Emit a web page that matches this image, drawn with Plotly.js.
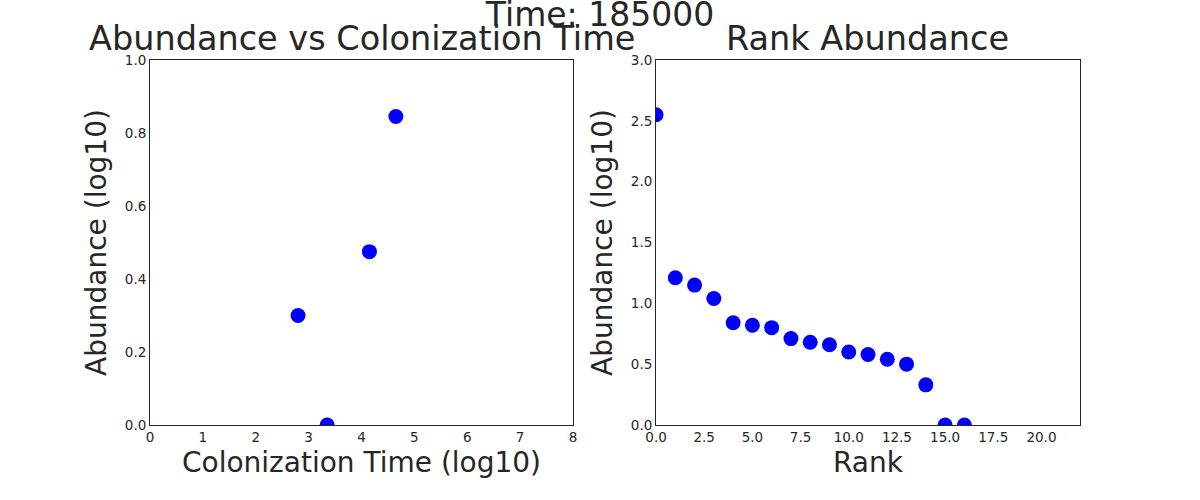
<!DOCTYPE html>
<html>
<head>
<meta charset="utf-8">
<script src="https://cdn.plot.ly/plotly-3.0.1.min.js"></script>
<style>body{margin:0;background:#fff}</style>
</head>
<body>
<div id="plot" style="width:1200px;height:500px"></div>
<script>
// left panel: colonization time vs abundance
const colTime = [2.8, 3.35, 4.15, 4.65];
const colAbund = [0.30, 0.0, 0.475, 0.845];

// right panel: rank abundance
const ranks = [0, 1, 2, 3, 4, 5, 6, 7, 8, 9, 10, 11, 12, 13, 14, 15, 16];
const rankAbund = [2.55, 1.21, 1.15, 1.04, 0.84, 0.82, 0.80, 0.71, 0.68, 0.66, 0.60, 0.58, 0.54, 0.50, 0.33, 0.0, 0.0];

const txt = '#262626';
const fnt = 'DejaVu Sans, sans-serif';
const mk = {color: 'blue', size: 15};

function ax(extra) {
  return Object.assign({
    showline: true, mirror: true, linecolor: '#262626', linewidth: 1,
    showgrid: false, zeroline: false, ticks: '',
    tickfont: {size: 13.5, color: txt, family: fnt},
  }, extra);
}

const traces = [
  {x: colTime, y: colAbund, mode: 'markers', type: 'scatter', marker: mk, xaxis: 'x', yaxis: 'y'},
  {x: ranks, y: rankAbund, mode: 'markers', type: 'scatter', marker: mk, xaxis: 'x2', yaxis: 'y2'},
];

const layout = {
  width: 1200, height: 500,
  showlegend: false,
  paper_bgcolor: '#fff', plot_bgcolor: '#fff',
  margin: {l: 0, r: 0, t: 0, b: 0},
  font: {family: fnt, color: txt},
  title: {text: 'Time: 185000', font: {size: 33, color: txt}, x: 0.5, xanchor: 'center', y: 0.972, yanchor: 'middle'},
  xaxis: ax({domain: [0.125, 0.4775], range: [0, 8], dtick: 1, anchor: 'y',
    title: {text: 'Colonization Time (log10)', font: {size: 28, color: txt}, standoff: 8}}),
  yaxis: ax({domain: [0.15, 0.88], range: [0, 1], dtick: 0.2, tickformat: '.1f', anchor: 'x',
    title: {text: 'Abundance (log10)', font: {size: 28, color: txt}, standoff: 10}}),
  xaxis2: ax({domain: [0.5467, 0.9], range: [0, 22], dtick: 2.5, tickformat: '.1f', anchor: 'y2',
    title: {text: 'Rank', font: {size: 28, color: txt}, standoff: 8}}),
  yaxis2: ax({domain: [0.15, 0.88], range: [0, 3], dtick: 0.5, tickformat: '.1f', anchor: 'x2',
    title: {text: 'Abundance (log10)', font: {size: 28, color: txt}, standoff: 10}}),
  annotations: [
    {text: 'Abundance vs Colonization Time', xref: 'paper', yref: 'paper', x: 0.3013, y: 0.88, yshift: 0,
     xanchor: 'center', yanchor: 'bottom', showarrow: false, font: {size: 33.5, color: txt}},
    {text: 'Rank Abundance', xref: 'paper', yref: 'paper', x: 0.7233, y: 0.88, yshift: 0,
     xanchor: 'center', yanchor: 'bottom', showarrow: false, font: {size: 33.5, color: txt}},
  ],
};

Plotly.newPlot('plot', traces, layout, {displayModeBar: false});
</script>
</body>
</html>
